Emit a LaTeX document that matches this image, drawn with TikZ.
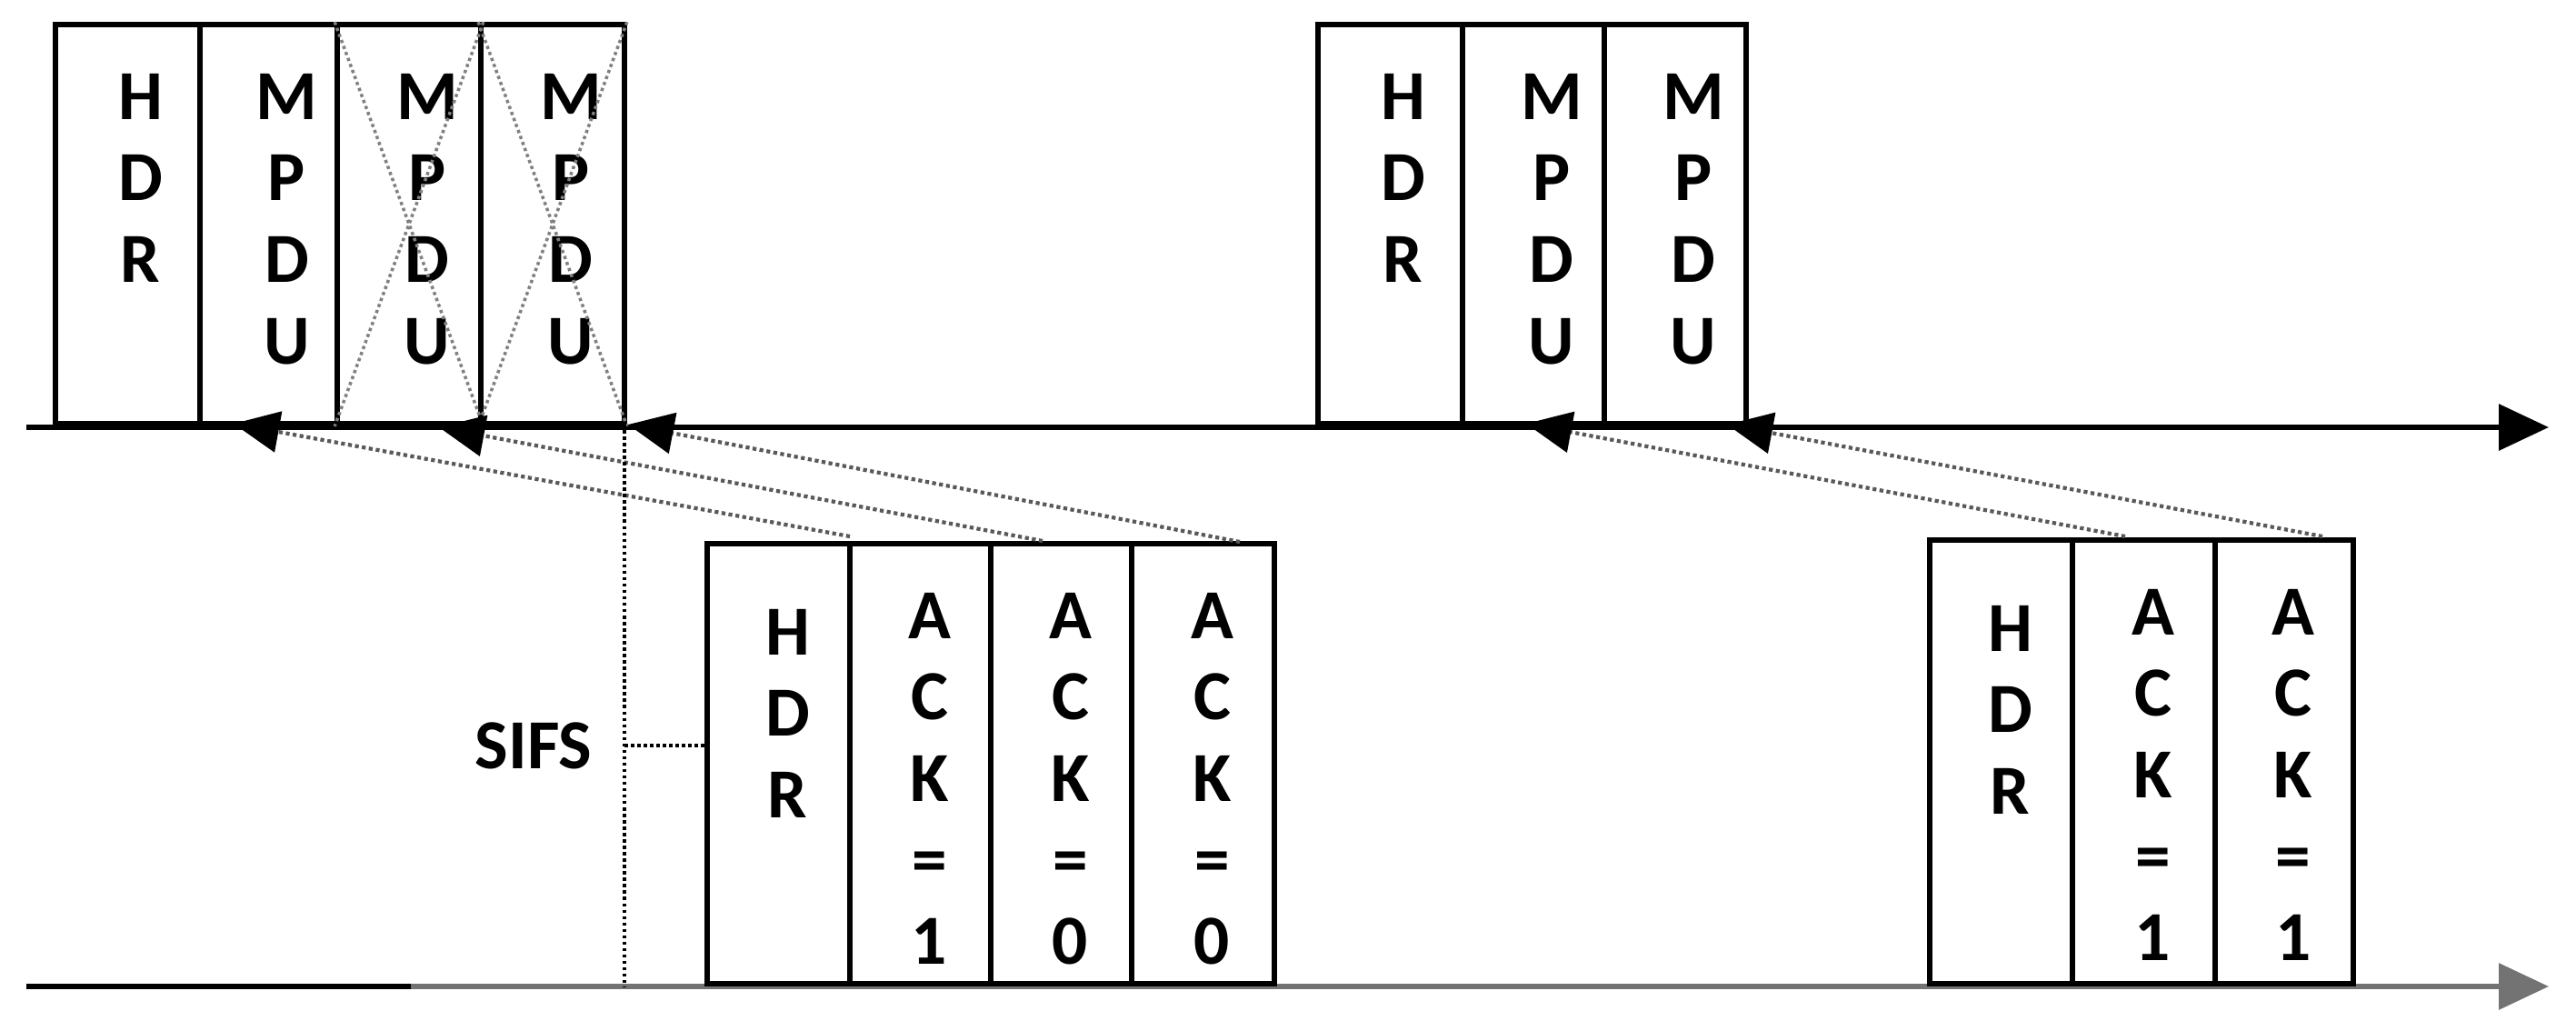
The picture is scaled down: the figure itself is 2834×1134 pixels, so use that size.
\documentclass[tikz,border=0pt]{standalone}
\usepackage{fontspec}
\setmainfont{Carlito}
\usetikzlibrary{arrows.meta}
\newcommand\pbox[5]{\node[box,minimum width={(#4-#2)*0.01cm},minimum height={(#5-#3)*0.01cm}] (#1) at ({(#2+#4)/2},{(#3+#5)/2}) {};}
\begin{document}
\begin{tikzpicture}[x=0.01cm,y=-0.01cm,
  box/.style={draw,line width=1.6pt,inner sep=0,rectangle},
  lbl/.style={font=\fontsize{22}{25.5}\selectfont\bfseries,align=center,inner sep=0,anchor=north},
  axis/.style={line width=1.8pt,-{Triangle[length=0.55cm,width=0.5cm]}},
  ack/.style={densely dotted,line width=1.2pt,draw=black!65,-{Triangle[length=0.5cm,width=0.45cm,color=black,fill=black]}},
  cross/.style={densely dotted,line width=1pt,draw=black!50}]
\useasboundingbox (0,0) rectangle (2834,1134);
% axes
\coordinate (ta0) at (29,470); \coordinate (ta1) at (2804,470);
\coordinate (ba0) at (29,1085); \coordinate (bg) at (452,1085); \coordinate (ba1) at (2804,1085);
\draw[axis] (ta0) -- (ta1);
\draw[line width=1.8pt] (ba0) -- (bg);
\draw[axis,draw=black!55] (bg) -- (ba1);
% top boxes
\pbox{t1}{61}{27}{220}{466}\pbox{t2}{220}{27}{371}{466}\pbox{t3}{371}{27}{529}{466}\pbox{t4}{529}{27}{687}{466}
\pbox{u1}{1450}{27}{1609}{466}\pbox{u2}{1609}{27}{1765}{466}\pbox{u3}{1765}{27}{1921}{466}
\foreach \n in {t1,u1}{\node[lbl] (\n l) at ([xshift=0.14cm,yshift=-0.56cm]\n.north) {H\\D\\R};}
\foreach \n in {t2,t3,t4,u2,u3}{\node[lbl] (\n l) at ([xshift=0.2cm,yshift=-0.56cm]\n.north) {M\\P\\D\\U};}
\foreach \n in {t3,t4}{\draw[cross] (\n.north west) -- (\n.south east); \draw[cross] (\n.north east) -- (\n.south west);}
% bottom boxes
\pbox{b1}{778}{598}{935}{1082}\pbox{b2}{935}{598}{1090}{1082}\pbox{b3}{1090}{598}{1245}{1082}\pbox{b4}{1245}{598}{1402}{1082}
\pbox{c1}{2123}{594}{2280}{1082}\pbox{c2}{2280}{594}{2437}{1082}\pbox{c3}{2437}{594}{2589}{1082}
\foreach \n in {b1,c1}{\node[lbl] (\n l) at ([xshift=0.1cm,yshift=-0.74cm]\n.north) {H\\D\\R};}
\node[lbl] (b2l) at ([xshift=0.1cm,yshift=-0.56cm]b2.north) {A\\C\\K\\=\\1};
\node[lbl] (b3l) at ([xshift=0.1cm,yshift=-0.56cm]b3.north) {A\\C\\K\\=\\0};
\node[lbl] (b4l) at ([xshift=0.1cm,yshift=-0.56cm]b4.north) {A\\C\\K\\=\\0};
\node[lbl] (c2l) at ([xshift=0.1cm,yshift=-0.56cm]c2.north) {A\\C\\K\\=\\1};
\node[lbl] (c3l) at ([xshift=0.1cm,yshift=-0.56cm]c3.north) {A\\C\\K\\=\\1};
% ack arrows
\coordinate (k1) at (257,466); \coordinate (k2) at (483,470); \coordinate (k3) at (691,467);
\coordinate (k4) at (1679,466); \coordinate (k5) at (1900,467);
\draw[ack] (935,590) -- (k1);
\draw[ack] (1147,595) -- (k2);
\draw[ack] (1364,596) -- (k3);
\draw[ack] (2338,590) -- (k4);
\draw[ack] (2555,590) -- (k5);
% SIFS
\coordinate (s0) at (687,466); \coordinate (s1) at (687,1085); \coordinate (s2) at (687,820);
\draw[densely dotted,line width=1pt] (s0) -- (s1);
\node[font=\fontsize{22}{25}\selectfont\bfseries,inner sep=0] (sifs) at (587,820) {SIFS};
\draw[densely dotted,line width=1pt] (s2) -- (b1.west |- s2);
\end{tikzpicture}
\end{document}
